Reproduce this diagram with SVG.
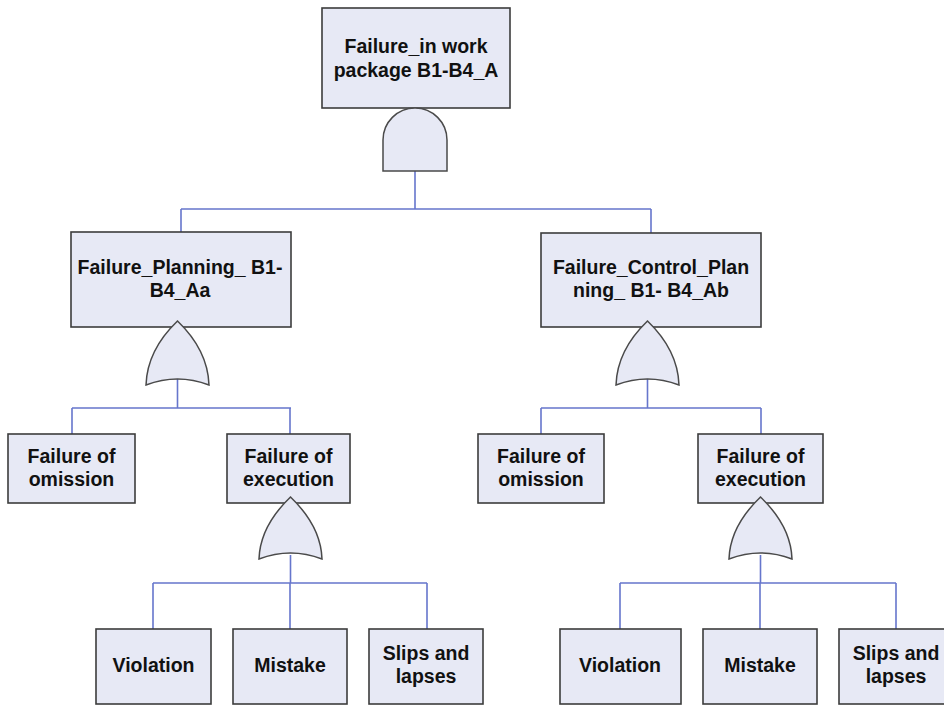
<svg xmlns="http://www.w3.org/2000/svg" width="944" height="705" viewBox="0 0 944 705">
  <style>
    .box { fill: #e7e9f5; stroke: #3c3c3c; stroke-width: 1.6; }
    .gate { fill: #e7e9f5; stroke: #4a4a4a; stroke-width: 1.5; }
    .wire { fill: none; stroke: #6676cc; stroke-width: 1.6; }
    .lbl { font-family: "Liberation Sans", Arial, sans-serif; font-weight: bold; font-size: 19.5px; fill: #111; text-anchor: middle; }
  </style>

  <!-- connectors -->
  <g id="connectors" class="wire">
    <path d="M415,171 V209 M181,209 H651 M181,209 V232 M651,209 V233"/>
    <path d="M177.5,379 V408 M72,408 H291 M72,408 V434 M290,408 V434"/>
    <path d="M647.5,379 V408 M541,408 H761 M541,408 V434 M761,408 V434"/>
    <path d="M290.5,555 V583 M153,583 H427 M153,583 V629 M290,583 V629 M427,583 V629"/>
    <path d="M760.5,555 V583 M620,583 H896 M620,583 V629 M760,583 V629 M896,583 V629"/>
  </g>

  <!-- top event with AND gate -->
  <g id="top">
    <rect class="box" x="322" y="8" width="188" height="100"/>
    <text class="lbl" x="416" y="53">Failure_in work</text>
    <text class="lbl" x="416" y="77">package B1-B4_A</text>
    <path class="gate" d="M383,171 V140 A32,32 0 0 1 447,140 V171 Z"/>
  </g>

  <!-- planning branch -->
  <g id="planning">
    <rect class="box" x="71" y="232" width="220" height="95"/>
    <text class="lbl" x="180" y="274">Failure_Planning_ B1-</text>
    <text class="lbl" x="180" y="297">B4_Aa</text>
    <path class="gate" d="M146,385 C147,355 165,333 177.5,321 C190,333 208,355 209,385 Q177.5,373 146,385 Z"/>
  </g>

  <!-- control planning branch -->
  <g id="control-planning">
    <rect class="box" x="541" y="233" width="220" height="94"/>
    <text class="lbl" x="651" y="274">Failure_Control_Plan</text>
    <text class="lbl" x="651" y="297">ning_ B1- B4_Ab</text>
    <path class="gate" d="M616,385 C617,355 635,333 647.5,321 C660,333 678,355 679,385 Q647.5,373 616,385 Z"/>
  </g>

  <g id="omission-a">
    <rect class="box" x="8" y="434" width="127" height="69"/>
    <text class="lbl" x="71.5" y="463">Failure of</text>
    <text class="lbl" x="71.5" y="486">omission</text>
  </g>

  <g id="execution-a">
    <rect class="box" x="227" y="434" width="123" height="69"/>
    <text class="lbl" x="288.5" y="463">Failure of</text>
    <text class="lbl" x="288.5" y="486">execution</text>
    <path class="gate" d="M259,559 C260,529 278,509 290.5,497 C303,509 321,529 322,559 Q290.5,547 259,559 Z"/>
  </g>

  <g id="omission-b">
    <rect class="box" x="478" y="434" width="126" height="69"/>
    <text class="lbl" x="541" y="463">Failure of</text>
    <text class="lbl" x="541" y="486">omission</text>
  </g>

  <g id="execution-b">
    <rect class="box" x="698" y="434" width="125" height="69"/>
    <text class="lbl" x="760.5" y="463">Failure of</text>
    <text class="lbl" x="760.5" y="486">execution</text>
    <path class="gate" d="M729,559 C730,529 748,509 760.5,497 C773,509 791,529 792,559 Q760.5,547 729,559 Z"/>
  </g>

  <!-- basic events, planning side -->
  <g id="violation-a">
    <rect class="box" x="96" y="629" width="115" height="75"/>
    <text class="lbl" x="153.5" y="672">Violation</text>
  </g>
  <g id="mistake-a">
    <rect class="box" x="233" y="629" width="114" height="75"/>
    <text class="lbl" x="290" y="672">Mistake</text>
  </g>
  <g id="slips-a">
    <rect class="box" x="369" y="629" width="114" height="75"/>
    <text class="lbl" x="426" y="660">Slips and</text>
    <text class="lbl" x="426" y="683">lapses</text>
  </g>

  <!-- basic events, control planning side -->
  <g id="violation-b">
    <rect class="box" x="560" y="629" width="121" height="75"/>
    <text class="lbl" x="620" y="672">Violation</text>
  </g>
  <g id="mistake-b">
    <rect class="box" x="703" y="629" width="114" height="75"/>
    <text class="lbl" x="760" y="672">Mistake</text>
  </g>
  <g id="slips-b">
    <rect class="box" x="839" y="629" width="114" height="75"/>
    <text class="lbl" x="896" y="660">Slips and</text>
    <text class="lbl" x="896" y="683">lapses</text>
  </g>
</svg>
